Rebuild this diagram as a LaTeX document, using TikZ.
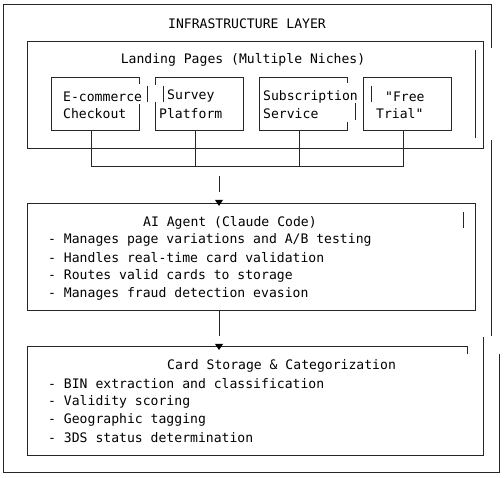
\documentclass[tikz,border=0pt]{standalone}
\usepackage{fontspec}
\setmonofont{DejaVu Sans Mono}
\usetikzlibrary{calc}
\newcommand{\arrowhd}[1]{
	\fill[black] ($(#1)+(-4,-6)$) -- ($(#1)+(4,-6)$) -- (#1) -- cycle;
}
\tikzset{
	txt/.style={font=\ttfamily\fontsize{13.1}{18}\selectfont, inner sep=0pt, anchor=west, yshift=-1.5pt},
	ttl/.style={font=\ttfamily\fontsize{13.1}{18}\selectfont, inner sep=0pt, yshift=-1.5pt},
	ln/.style={line width=0.9pt, black!85}
}
\begin{document}
\begin{tikzpicture}[x=1pt,y=-1pt]
	\useasboundingbox[fill=white] (0,0) rectangle (504,478);

	% outer frame
	\draw[ln] (491,48) -- (491,4) -- (3,4) -- (3,472) -- (499,472) -- (499,354);
	\draw[ln] (491,140) -- (491,336);
	\node[ttl] (infra) at (247,22) {INFRASTRUCTURE LAYER};

	% landing pages
	\draw[ln] (27,41) rectangle (483,148);
	\draw[ln] (475,50) -- (475,138);
	\node[ttl] (landing) at (243,58) {Landing Pages (Multiple Niches)};

	\draw[ln] (139,84) -- (139,77) -- (51,77) -- (51,130) -- (139,130) -- (139,104);
	\draw[ln] (147,86) -- (147,102);
	\draw[ln] (155,85) -- (155,77) -- (243,77) -- (243,130) -- (155,130) -- (155,102);
	\draw[ln] (163,86) -- (163,102);
	\draw[ln] (347,83) -- (347,77) -- (259,77) -- (259,130) -- (347,130) -- (347,122);
	\draw[ln] (355,103) -- (355,120);
	\draw[ln] (363,77) rectangle (451,130);
	\draw[ln] (371,86) -- (371,102);

	\node[txt] (ecom) at (63,95) {E-commerce};
	\node[txt] (ecomb) at (63,112) {Checkout};
	\node[txt] (survey) at (167,95) {Survey};
	\node[txt] (surveyb) at (159,112) {Platform};
	\node[txt] (subs) at (263,95) {Subscription};
	\node[txt] (subsb) at (263,112) {Service};
	\node[txt] (trial) at (385,95) {"Free};
	\node[txt] (trialb) at (376,112) {Trial"};

	% bus
	\coordinate (p1) at (91,130);
	\coordinate (p2) at (195,130);
	\coordinate (p3) at (299,130);
	\coordinate (p4) at (403,130);
	\coordinate (b1) at (91,166);
	\coordinate (b2) at (195,166);
	\coordinate (b3) at (299,166);
	\coordinate (b4) at (403,166);
	\draw[ln] (p1) -- (b1) -- (b4) -- (p4);
	\draw[ln] (p2) -- (b2);
	\draw[ln] (p3) -- (b3);

	\coordinate (s1) at (219,176);
	\coordinate (s2) at (219,192);
	\coordinate (t1) at (219,206);
	\draw[ln] (s1) -- (s2);

	% agent
	\draw[ln] (27,203) rectangle (475,310);
	\draw[ln] (463,212) -- (463,228);
	\arrowhd{t1}
	\node[txt] (agent) at (143,221) {AI Agent (Claude Code)};
	\node[txt] (a1) at (48,238) {- Manages page variations and A/B testing};
	\node[txt] (a2) at (48,256) {- Handles real-time card validation};
	\node[txt] (a3) at (48,274) {- Routes valid cards to storage};
	\node[txt] (a4) at (48,292) {- Manages fraud detection evasion};

	\coordinate (s3) at (219,310);
	\coordinate (s4) at (219,336);
	\coordinate (t2) at (219,350);
	\draw[ln] (s3) -- (s4);

	% storage
	\draw[ln] (467,354) -- (467,346) -- (27,346) -- (27,455) -- (483,455) -- (483,337);
	\arrowhd{t2}
	\node[txt] (store) at (167,364) {Card Storage \& Categorization};
	\node[txt] (c1) at (48,382) {- BIN extraction and classification};
	\node[txt] (c2) at (48,400) {- Validity scoring};
	\node[txt] (c3) at (48,418) {- Geographic tagging};
	\node[txt] (c4) at (48,436) {- 3DS status determination};
\end{tikzpicture}
\end{document}
